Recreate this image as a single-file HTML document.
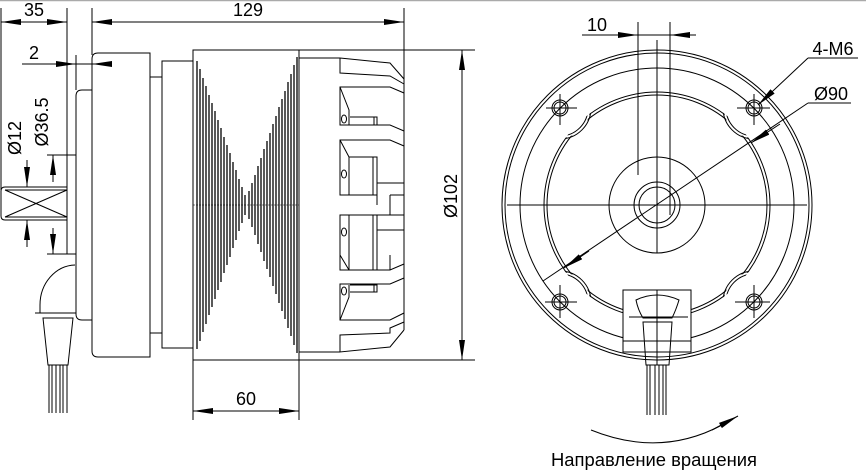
<!DOCTYPE html>
<html><head><meta charset="utf-8"><style>
html,body{margin:0;padding:0;background:#fff;}
svg{display:block;}
text{font-family:"Liberation Sans",sans-serif;fill:#000;}
</style></head><body>
<svg width="866" height="475" viewBox="0 0 866 475" xmlns="http://www.w3.org/2000/svg">
<defs>
<marker id="a" viewBox="0 0 20 6" refX="20" refY="3" markerWidth="20" markerHeight="6" markerUnits="userSpaceOnUse" orient="auto"><path d="M0,0 L20,3 L0,6 Z" fill="#000"/></marker>
<mask id="m"><rect width="866" height="475" fill="#fff"/>
<circle cx="560" cy="108" r="30" fill="#000"/><circle cx="754" cy="108" r="30" fill="#000"/>
<circle cx="560" cy="302" r="30" fill="#000"/><circle cx="754" cy="302" r="30" fill="#000"/></mask>
<clipPath id="c"><circle cx="657" cy="205" r="113.5"/></clipPath>
</defs>
<line x1="0" y1="0.5" x2="866" y2="0.5" stroke="#aaa" stroke-width="1.5"/>
<g fill="none" stroke="#000" stroke-width="1">
<line x1="1" y1="8" x2="1" y2="190"/><line x1="67" y1="8" x2="67" y2="190"/>
<line x1="1" y1="22" x2="67" y2="22"/>
<line x1="30" y1="22" x2="1" y2="22" marker-end="url(#a)"/><line x1="40" y1="22" x2="67" y2="22" marker-end="url(#a)"/>
<line x1="92" y1="8" x2="92" y2="55"/><line x1="404" y1="8" x2="404" y2="80"/>
<line x1="92" y1="22" x2="404" y2="22"/>
<line x1="120" y1="22" x2="92" y2="22" marker-end="url(#a)"/><line x1="376" y1="22" x2="404" y2="22" marker-end="url(#a)"/>
<line x1="22" y1="64" x2="112" y2="64"/>
<line x1="44" y1="64" x2="76" y2="64" marker-end="url(#a)"/><line x1="112" y1="64" x2="92" y2="64" marker-end="url(#a)"/>
<line x1="76" y1="55" x2="76" y2="90"/>
<path d="M67,187 H5 Q1,187 1,191 V216 Q1,220 5,220 H67"/>
<line x1="5" y1="190" x2="67" y2="190"/><line x1="5" y1="217" x2="67" y2="217"/>
<line x1="5" y1="190" x2="67" y2="217"/><line x1="5" y1="217" x2="67" y2="190"/>
<line x1="47" y1="155" x2="76" y2="155"/><line x1="47" y1="254" x2="76" y2="254"/>
<line x1="67" y1="155" x2="67" y2="254"/>
<line x1="27" y1="160" x2="27" y2="187" marker-end="url(#a)"/><line x1="27" y1="247" x2="27" y2="220" marker-end="url(#a)"/>
<line x1="53" y1="182" x2="53" y2="155" marker-end="url(#a)"/><line x1="53" y1="228" x2="53" y2="254" marker-end="url(#a)"/>
<path d="M92,90 H82 Q76,90 76,96 V314 Q76,320 82,320 H92"/>
<path d="M150,53 H98 Q92,53 92,59 V351 Q92,357 98,357 H150 Z"/>
<rect x="150" y="77" width="12" height="256"/>
<rect x="162" y="61" width="31" height="287"/>
<rect x="193" y="50" width="106" height="310"/>
<path stroke-width="1.3" d="M197,61V349M200,69V341M203,78V332M206,86V324M209,95V315M212,103V307M215,111V299M218,120V290M221,128V282M224,137V273M227,145V265M230,153V257M233,162V248M236,170V240M239,179V231M242,187V223M245,195V215
M297,57V353M294,65V345M291,74V336M288,82V328M285,91V319M282,99V311M279,107V303M276,116V294M273,124V286M270,133V277M267,141V269M264,149V261M261,158V252M258,166V244M255,175V235M252,183V227M249,191V219"/>
<line x1="193" y1="205" x2="299" y2="205" stroke-dasharray="2,1" stroke-width="0.6"/>
<path d="M75,265 A36,40 0 0 0 40,305 L40,313"/>
<line x1="35" y1="313" x2="76" y2="313"/>
<path d="M43,318 H73 L68,365 H48 Z"/>
<path d="M49,365V413M52,365V413M56,365V413M60,365V413M63,365V413M67,365V413"/>
<line x1="299" y1="58" x2="340" y2="58"/><line x1="299" y1="352" x2="340" y2="352"/>
<line x1="404" y1="80" x2="404" y2="330"/>
<path d="M340,58 L390,63 L404,79 M340,58 V73 L390,76 L404,84"/>
<path d="M404,93 L390,87 H340 V125 H390 L404,131 M340,87 L349,110 V125 M350,117 H377 V125 M374,117 V125"/>
<ellipse cx="344" cy="119" rx="2.5" ry="4"/>
<path d="M404,146 L390,140 H340 V195 H377 M340,140 L349,157 V195 M349,157 H377 V195 M373,157 V195 M377,183 H404"/>
<ellipse cx="344" cy="174" rx="2.5" ry="4"/>
<path d="M377,195 V205 M390,195 H404 M390,195 V215 M377,215 H404"/>
<path d="M340,215 H377 V270 H340 Z M349,215 V270 L340,270 M373,215 V270 M377,230 H404 M340,255 L349,270 M377,270 L390,270 L404,264 M390,270 V255"/>
<ellipse cx="344" cy="232" rx="2.5" ry="4"/>
<path d="M404,278 L390,284 H340 V320 H390 L404,313 M340,320 L349,297 V285 M350,285 H377 V292 H350 M374,285 V292"/>
<ellipse cx="344" cy="291" rx="2.5" ry="4"/>
<path d="M404,322 L390,328 V333 L340,335 V352 L390,347 L404,330"/>
<line x1="299" y1="50" x2="430" y2="50"/><line x1="299" y1="360" x2="475" y2="360"/>
<line x1="430" y1="50" x2="475" y2="50"/>
<line x1="462" y1="80" x2="462" y2="50" marker-end="url(#a)"/><line x1="462" y1="330" x2="462" y2="360" marker-end="url(#a)"/>
<line x1="462" y1="80" x2="462" y2="330"/>
<line x1="193" y1="360" x2="193" y2="420"/><line x1="299" y1="360" x2="299" y2="420"/>
<line x1="193" y1="411" x2="299" y2="411"/>
<line x1="220" y1="411" x2="193" y2="411" marker-end="url(#a)"/><line x1="272" y1="411" x2="299" y2="411" marker-end="url(#a)"/>
<circle cx="657" cy="205" r="155"/><circle cx="657" cy="205" r="152"/>
<circle cx="657" cy="205" r="137"/>
<g mask="url(#m)"><circle cx="657" cy="205" r="113"/><circle cx="657" cy="205" r="110"/></g>
<g clip-path="url(#c)">
<circle cx="560" cy="108" r="31"/><circle cx="560" cy="108" r="28"/>
<circle cx="754" cy="108" r="31"/><circle cx="754" cy="108" r="28"/>
<circle cx="560" cy="302" r="31"/><circle cx="560" cy="302" r="28"/>
<circle cx="754" cy="302" r="31"/><circle cx="754" cy="302" r="28"/></g>
<circle cx="657" cy="205" r="48"/><circle cx="657" cy="205" r="23"/><circle cx="657" cy="205" r="18"/>
<g>
<circle cx="560" cy="108" r="8"/><circle cx="560" cy="108" r="6"/><path d="M546,108H577M560,94V125"/>
<circle cx="754" cy="108" r="8"/><circle cx="754" cy="108" r="6"/><path d="M737,108H770M754,94V125"/>
<circle cx="560" cy="302" r="8"/><circle cx="560" cy="302" r="6"/><path d="M545,302H577M560,285V318"/>
<circle cx="754" cy="302" r="8"/><circle cx="754" cy="302" r="6"/><path d="M735,302H770M754,285V318"/>
</g>
<line x1="657" y1="40" x2="657" y2="253"/><line x1="507" y1="205" x2="807" y2="205"/>
<line x1="638" y1="22" x2="638" y2="175"/><line x1="670" y1="22" x2="670" y2="215"/>
<line x1="582" y1="35" x2="696" y2="35"/>
<line x1="612" y1="35" x2="638" y2="35" marker-end="url(#a)"/><line x1="696" y1="35" x2="670" y2="35" marker-end="url(#a)"/>
<line x1="808" y1="58" x2="858" y2="58"/><line x1="808" y1="58" x2="758" y2="105" marker-end="url(#a)"/>
<line x1="808" y1="103" x2="851" y2="103"/><line x1="808" y1="103" x2="543" y2="281"/>
<line x1="780" y1="124" x2="751" y2="143" marker-end="url(#a)"/>
<line x1="589" y1="251" x2="564" y2="268" marker-end="url(#a)"/>
<rect x="623" y="290" width="68" height="62" fill="#fff"/>
<path d="M636,300 Q657,290 679,300 Q676,310 672,318 H643 Q638,310 636,300 Z"/>
<line x1="629" y1="317" x2="688" y2="317"/><line x1="623" y1="341" x2="691" y2="341"/>
<path d="M643,322 H672 L669,365 H646 Z"/>
<line x1="657" y1="290" x2="657" y2="365"/>
<path d="M647,365V415M650,365V415M655,365V415M659,365V415M663,365V415M666,365V415"/>
<path d="M591,430 Q660,458 722,425"/>
<line x1="712" y1="430" x2="738" y2="416" marker-end="url(#a)"/>
</g>
<g font-size="18">
<text x="34" y="16" text-anchor="middle">35</text>
<text x="248" y="16" text-anchor="middle">129</text>
<text x="34" y="59" text-anchor="middle">2</text>
<text x="246" y="405" text-anchor="middle">60</text>
<text transform="translate(21,138) rotate(-90)" text-anchor="middle">Ø12</text>
<text transform="translate(48,122) rotate(-90)" text-anchor="middle">Ø36.5</text>
<text transform="translate(457,196) rotate(-90)" text-anchor="middle">Ø102</text>
<text x="597" y="31" text-anchor="middle">10</text>
<text x="833" y="55" text-anchor="middle">4-M6</text>
<text x="831" y="100" text-anchor="middle">Ø90</text>
<text x="654" y="466" text-anchor="middle" textLength="206" lengthAdjust="spacingAndGlyphs">Направление вращения</text>
</g>
</svg>
</body></html>
